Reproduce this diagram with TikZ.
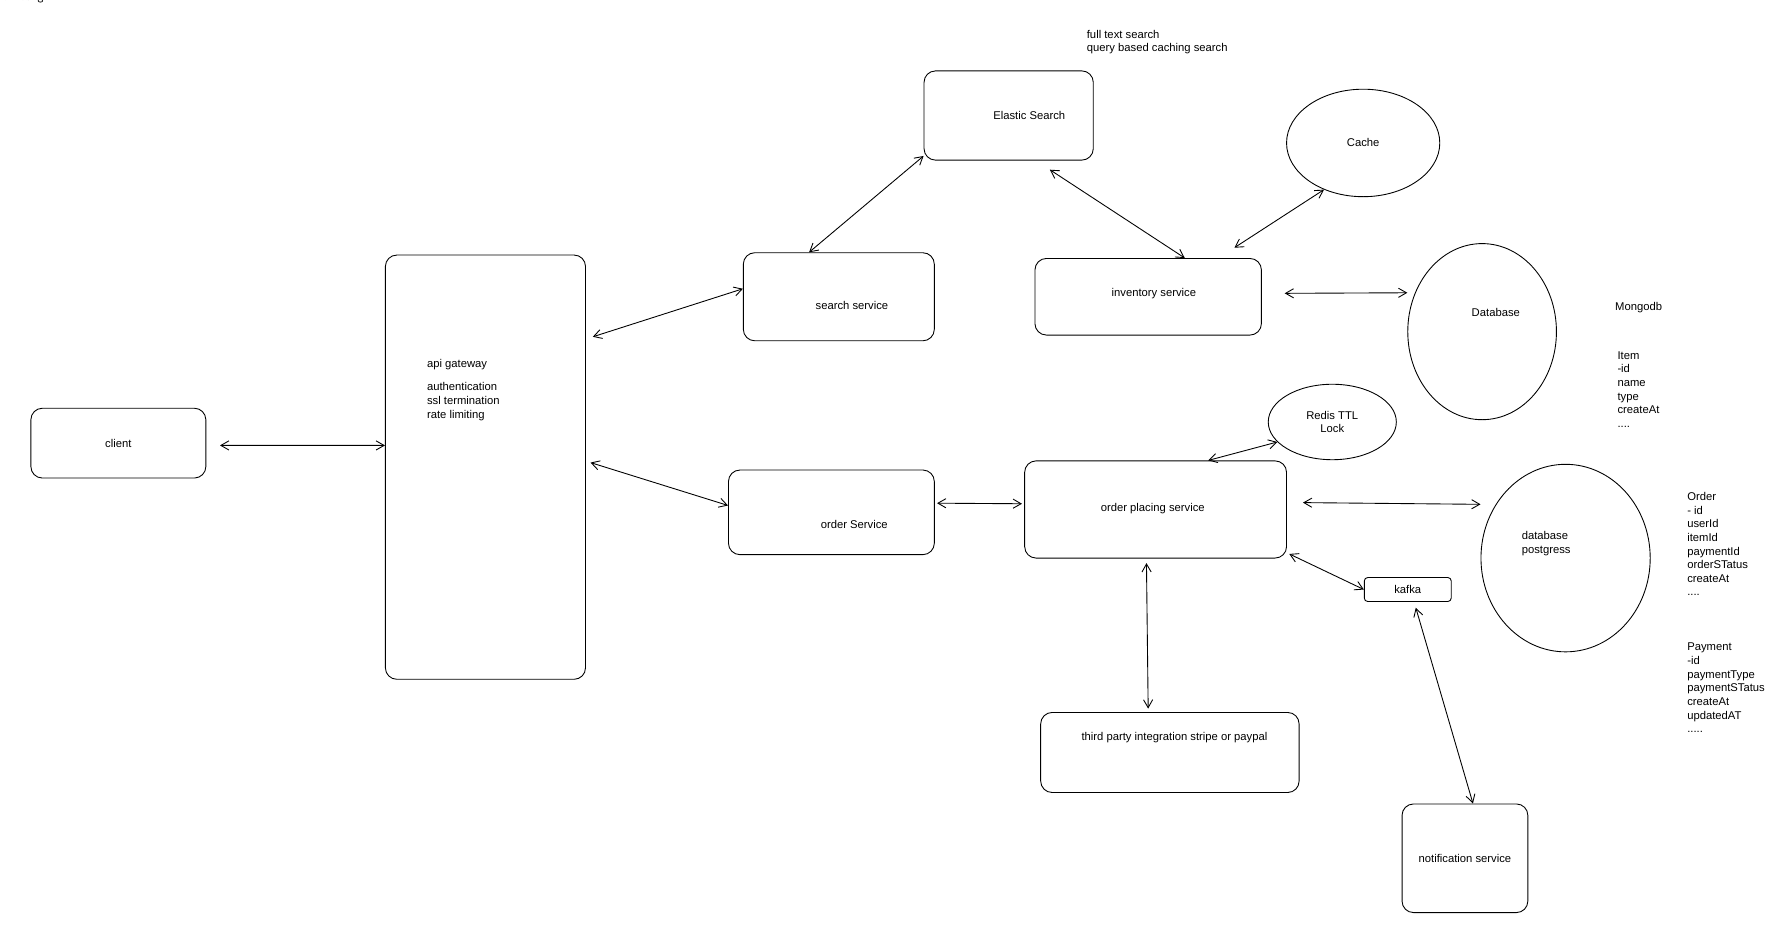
\documentclass[tikz,border=0pt]{standalone}
\usepackage{fontspec}
\setmainfont{Liberation Sans}
\usetikzlibrary{arrows.meta,shapes.geometric}
\begin{document}
\begin{tikzpicture}[x=0.05cm,y=-0.05cm,line width=1.1pt,
		font=\fontsize{14}{17}\selectfont,
		box/.style={rectangle,draw=black,rounded corners=0.5cm,align=center},
		blob/.style={ellipse,draw=black,align=center,inner sep=0pt},
		note/.style={anchor=north west,align=left,inner sep=0pt},
		tag/.style={align=left,inner sep=0pt},
		link/.style={{Straight Barb[length=3.5mm,width=4mm]}-{Straight Barb[length=3.5mm,width=4mm]}}]
		\useasboundingbox (0,0) rectangle (1560,818);
		\node[anchor=west,font=\ttfamily\bfseries\fontsize{14}{15}\selectfont] (title) at (-6,-1.5) {ct Design};
		
		% boxes
		\node[box,minimum width=7.65cm,minimum height=3.05cm] (client) at (103.5,387.5) {client};
		\node[box,minimum width=8.75cm,minimum height=18.55cm] (api) at (424.5,408.5) {};
		\node[note] (apitxt) at (373,314) {api gateway\\[12pt]authentication\\ssl termination\\rate limiting};
		\node[box,minimum width=8.35cm,minimum height=3.85cm] (search) at (733.5,259.5) {};
		\node[tag] (searchtxt) at (745,267) {search service};
		\node[box,minimum width=7.4cm,minimum height=3.9cm] (elastic) at (882,101) {};
		\node[tag] (elastictxt) at (900,101) {Elastic Search};
		\node[note] (esnote) at (950,26) {full text search\\query based caching search};
		\node[box,minimum width=9.9cm,minimum height=3.35cm] (inventory) at (1004,259.5) {};
		\node[tag] (inventorytxt) at (1009,257) {inventory service};
		\node[blob,minimum width=6.7cm,minimum height=4.7cm] (cache) at (1192,125) {Cache};
		\node[blob,minimum width=6.5cm,minimum height=7.7cm] (db) at (1296,290) {};
		\node[tag] (dbtxt) at (1308,273) {Database};
		\node[note] (mongo) at (1412,264) {Mongodb};
		\node[note] (item) at (1414,307) {Item\\-id\\name\\type\\createAt\\....};
		\node[box,minimum width=9.0cm,minimum height=3.7cm] (order) at (727,448) {};
		\node[tag] (ordertxt) at (747,459) {order Service};
		\node[box,minimum width=11.45cm,minimum height=4.25cm] (placing) at (1010.5,445.5) {};
		\node[tag] (placingtxt) at (1008,445) {order placing service};
		\node[blob,minimum width=5.6cm,minimum height=3.3cm] (redis) at (1165,369) {Redis TTL\\Lock};
		\node[blob,minimum width=7.4cm,minimum height=8.2cm] (pg) at (1369,488) {};
		\node[tag] (pgtxt) at (1352,475.5) {database\\postgress};
		\node[note] (ordtbl) at (1475,430) {Order\\- id\\userId\\itemId\\paymentId\\orderSTatus\\createAt\\....};
		\node[note] (paytbl) at (1475,562) {Payment\\-id\\paymentType\\paymentSTatus\\createAt\\updatedAT\\.....};
		\node[box,rounded corners=0.15cm,minimum width=3.8cm,minimum height=1.05cm] (kafka) at (1231,515.5) {kafka};
		\node[box,minimum width=11.3cm,minimum height=3.5cm] (third) at (1023,658) {};
		\node[tag] (thirdtxt) at (1027,645) {third party integration stripe or paypal};
		\node[box,minimum width=5.5cm,minimum height=4.75cm] (notif) at (1281,750.5) {notification service};
		
		% connections
		\draw[link] ([xshift=6mm,yshift=-0.1cm]client.east) -- ([yshift=0.95cm]api.west);
		\draw[link] ([xshift=3mm,yshift=5.7cm]api.east) -- ([yshift=0.35cm]search.west);
		\draw[link] ([xshift=2mm,yshift=0.2cm]api.east) -- ([yshift=0.3cm]order.west);
		\draw[link] ([xshift=-1.3cm]search.north) -- ([yshift=0.2cm]elastic.south west);
		\draw[link] ([xshift=1.8cm,yshift=-0.4cm]elastic.south) -- ([xshift=1.6cm]inventory.north);
		\draw[link] ([xshift=-1.2cm,yshift=0.45cm]inventory.north east) -- (cache.-130);
		\draw[link] ([xshift=1cm,yshift=0.15cm]inventory.east) -- ([yshift=1.7cm]db.west);
		\draw[link] ([xshift=1mm,yshift=0.4cm]order.east) -- ([xshift=-1mm,yshift=0.25cm]placing.west);
		\draw[link] ([xshift=2.3cm]placing.north) -- (redis.-160);
		\draw[link] ([xshift=7mm,yshift=0.3cm]placing.east) -- ([yshift=2.35cm]pg.west);
		\draw[link] ([xshift=1mm,yshift=0.2cm]placing.south east) -- (kafka.west);
		\draw[link] ([xshift=-0.4cm,yshift=-0.2cm]placing.south) -- ([xshift=-0.95cm,yshift=0.15cm]third.north);
		\draw[link] ([xshift=0.35cm,yshift=-0.25cm]kafka.south) -- ([xshift=0.35cm]notif.north);
	\end{tikzpicture}
\end{document}
